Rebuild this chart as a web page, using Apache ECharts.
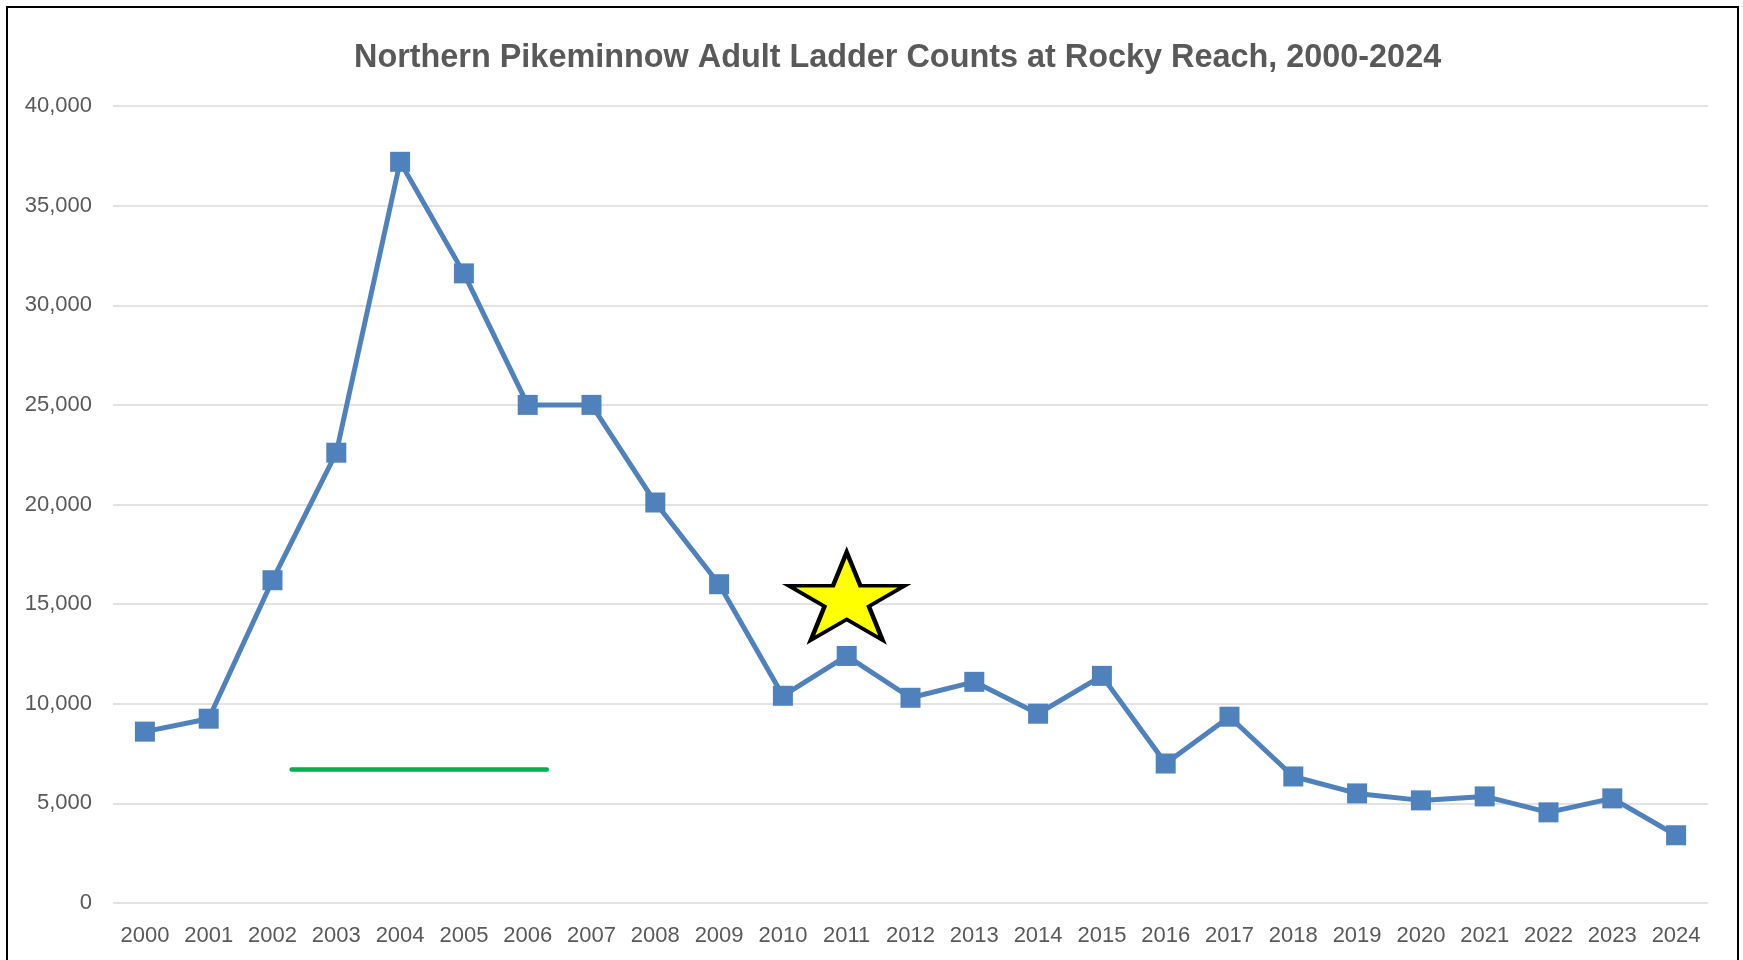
<!DOCTYPE html>
<html>
<head>
<meta charset="utf-8">
<script src="https://cdn.jsdelivr.net/npm/echarts@6/dist/echarts.min.js"></script>
<style>
  html, body { margin: 0; padding: 0; background: #fff; }
  #chart { width: 1743px; height: 960px; }
</style>
</head>
<body>
<div id="chart"></div>
<script>
const years = ['2000', '2001', '2002', '2003', '2004', '2005', '2006', '2007', '2008', '2009',
  '2010', '2011', '2012', '2013', '2014', '2015', '2016', '2017', '2018', '2019',
  '2020', '2021', '2022', '2023', '2024']
const counts = [8600, 9250, 16200, 22600, 37200, 31600, 25000, 25000, 20100, 16000,
  10400, 12400, 10300, 11100, 9500, 11400, 7000, 9350, 6350, 5500,
  5150, 5350, 4550, 5250, 3400]
// green reference line, x in category index units
const greenLine = [[2.3, 6700], [6.3, 6700]]
// star annotation above 2011
const starPoint = ['2011', 15400]

const textColor = '#595959'
const fontFamily = '"Liberation Sans", Arial, sans-serif'
const starPath = 'path://M50,0 L61.8,36.2 L100,36.2 L69.1,58.6 L80.9,95.1 L50,72.7 L19.1,95.1 L30.9,58.6 L0,36.2 L38.2,36.2 Z'

const chart = echarts.init(document.getElementById('chart'))
chart.setOption({
  animation: false,
  backgroundColor: '#fff',
  title: {
    text: 'Northern Pikeminnow Adult Ladder Counts at Rocky Reach, 2000-2024',
    left: 349,
    top: 37,
    textStyle: { color: textColor, fontSize: 32.4, fontWeight: 'bold', fontFamily },
  },
  graphic: [
    {
      type: 'rect',
      shape: { x: 7, y: 7, width: 1731, height: 1000 },
      style: { fill: 'none', stroke: '#000', lineWidth: 2 },
      silent: true,
    },
  ],
  grid: { left: 113, right: 35, top: 106, bottom: 57 },
  xAxis: [
    {
      type: 'category',
      data: years,
      boundaryGap: true,
      axisLine: { show: false },
      axisTick: { show: false },
      axisLabel: { color: textColor, fontSize: 22, margin: 22, fontFamily },
    },
    {
      type: 'value',
      min: -0.5,
      max: 24.5,
      show: false,
    },
  ],
  yAxis: {
    type: 'value',
    min: 0,
    max: 40000,
    interval: 5000,
    axisLine: { show: false },
    axisTick: { show: false },
    axisLabel: {
      color: textColor,
      fontSize: 22,
      margin: 21,
      fontFamily,
      formatter: (v) => v.toLocaleString('en-US'),
    },
    splitLine: { lineStyle: { color: '#D9D9D9', width: 1.5 } },
  },
  series: [
    {
      type: 'line',
      data: counts,
      symbol: 'rect',
      symbolSize: 20,
      lineStyle: { color: '#4F81BD', width: 5 },
      itemStyle: { color: '#4F81BD' },
      z: 3,
      markPoint: {
        symbol: starPath,
        symbolSize: [116, 88],
        symbolKeepAspect: false,
        label: { show: false },
        itemStyle: { color: '#FFFF00', borderColor: '#000', borderWidth: 4 },
        data: [{ coord: starPoint }],
      },
    },
    {
      type: 'line',
      xAxisIndex: 1,
      data: greenLine,
      symbol: 'none',
      lineStyle: { color: '#00B050', width: 4.5, cap: 'round' },
      z: 2,
    },
  ],
})
</script>
</body>
</html>
